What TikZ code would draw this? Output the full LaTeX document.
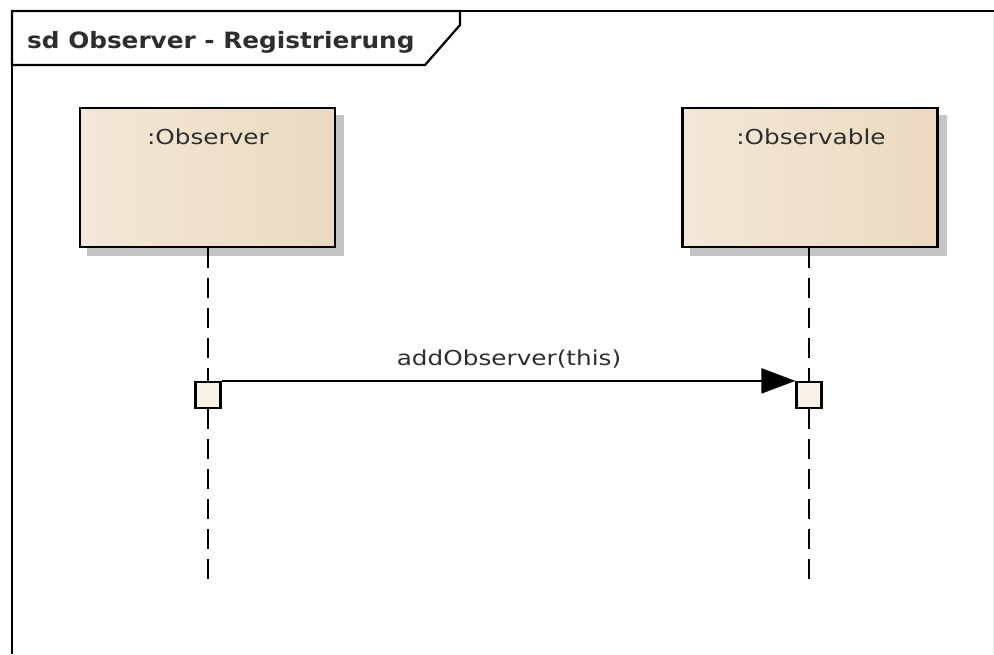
\documentclass[tikz,border=0pt]{standalone}
\usepackage{fontspec}
\usetikzlibrary{arrows.meta}
\newfontfamily\lblfont[FakeStretch=1.2]{DejaVu Sans}
\newfontfamily\titlefont[FakeStretch=1.1]{DejaVu Sans Bold}
\definecolor{txt}{HTML}{2E2E2E}
\definecolor{boxL}{HTML}{F3E8D8}
\definecolor{boxM}{HTML}{FBF4EB}
\definecolor{boxR}{HTML}{EAD9BF}
\definecolor{shadowc}{HTML}{C4C4C4}
\definecolor{actfill}{HTML}{F8F1E7}
\tikzset{
  lifebox/.style={draw=black, line width=2.2pt, minimum width=255pt, minimum height=139pt,
    left color=boxL, middle color=boxM, right color=boxR, inner sep=0pt},
  boxshadow/.style={fill=shadowc, draw=none, minimum width=257pt, minimum height=141pt, inner sep=0pt},
  lifeline/.style={line width=2.2pt, dash pattern=on 20pt off 10pt},
  actbox/.style={draw=black, line width=2.2pt, fill=actfill, minimum width=25pt, minimum height=26pt, inner sep=0pt},
  lbl/.style={text=txt, font=\lblfont\fontsize{20.6}{24}\selectfont, inner sep=0pt},
  msg/.style={line width=2.2pt, -{Triangle[length=34pt,width=25pt]}},
}
\begin{document}
\begin{tikzpicture}[x=1pt,y=-1pt]
\useasboundingbox (0,0) rectangle (994,654);
\fill[white] (0,0) rectangle (994,654);
% frame
\draw[line width=1pt, color=black!10] (993,12) -- (993,654);
\draw[line width=2.2pt] (994,11) -- (12,11) -- (12,654);
\draw[line width=2.2pt, fill=white] (12,11) -- (12,65) -- (425,65) -- (460,25) -- (460,11) -- cycle;
\node[anchor=base west, text=txt, font=\titlefont\fontsize{22.5}{26}\selectfont, inner sep=0pt] (title) at (27,48) {sd Observer - Registrierung};
% shadows
\node[boxshadow] (sh1) at (215.5,185.5) {};
\node[boxshadow] (sh2) at (818,185.5) {};
% lifeline heads
\node[lifebox] (obs) at (207.5,177.5) {};
\node[lifebox] (obl) at (810,177.5) {};
\node[lbl] (obstxt) at (208,137) {:Observer};
\node[lbl] (obltxt) at (811,137) {:Observable};
% activations
\node[actbox] (act1) at (208,395) {};
\node[actbox] (act2) at (809,395) {};
\coordinate (end1) at (208,587);
\coordinate (end2) at (809,587);
% lifelines
\draw[lifeline] (obs.south -| act1.north) -- (act1.north);
\draw[lifeline] (obl.south -| act2.north) -- (act2.north);
\draw[lifeline] (act1.south) -- (end1);
\draw[lifeline] (act2.south) -- (end2);
% message
\draw[msg] (act1.north east) -- (act2.north west);
\node[lbl, anchor=base] (msglbl) at (509,365) {addObserver(this)};
\end{tikzpicture}
\end{document}
